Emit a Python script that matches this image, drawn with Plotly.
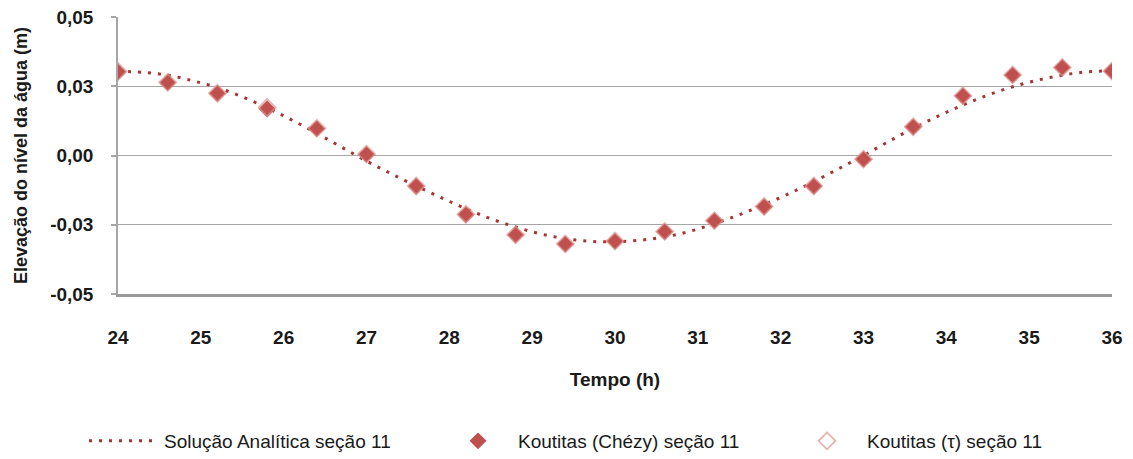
import plotly.graph_objects as go

# ---- data ----
t_analitica = [24.0, 24.3, 24.6, 24.9, 25.2, 25.5, 25.8, 26.1, 26.4, 26.7, 27.0,
               27.3, 27.6, 27.9, 28.2, 28.5, 28.8, 29.1, 29.4, 29.7, 30.0,
               30.3, 30.6, 30.9, 31.2, 31.5, 31.8, 32.1, 32.4, 32.7, 33.0,
               33.3, 33.6, 33.9, 34.2, 34.5, 34.8, 35.1, 35.4, 35.7, 36.0]
eta_analitica = [0.0304, 0.0300, 0.0290, 0.0270, 0.0245, 0.0212, 0.0172, 0.0128, 0.0080, 0.0030, -0.0020,
                 -0.0066, -0.0110, -0.0152, -0.0192, -0.0228, -0.0258, -0.0283, -0.0300, -0.0310, -0.0311,
                 -0.0306, -0.0294, -0.0274, -0.0246, -0.0214, -0.0177, -0.0138, -0.0094, -0.0048, 0.0000,
                 0.0050, 0.0098, 0.0142, 0.0182, 0.0218, 0.0248, 0.0272, 0.0290, 0.0302, 0.0306]

t_koutitas = [24.0, 24.6, 25.2, 25.8, 26.4, 27.0, 27.6, 28.2, 28.8, 29.4, 30.0,
              30.6, 31.2, 31.8, 32.4, 33.0, 33.6, 34.2, 34.8, 35.4, 36.0]
eta_chezy = [0.0302, 0.0263, 0.0224, 0.0168, 0.0097, 0.0004, -0.0111, -0.0214, -0.0287, -0.0320, -0.0310,
             -0.0275, -0.0236, -0.0185, -0.0111, -0.0014, 0.0103, 0.0215, 0.0290, 0.0318, 0.0304]
eta_tau = [0.0303, 0.0264, 0.0225, 0.0173, 0.0098, 0.0005, -0.0110, -0.0212, -0.0286, -0.0319, -0.0309,
           -0.0274, -0.0235, -0.0184, -0.0110, -0.0013, 0.0104, 0.0216, 0.0291, 0.0318, 0.0305]

x_ticks = [24, 25, 26, 27, 28, 29, 30, 31, 32, 33, 34, 35, 36]
y_tickvals = [-0.05, -0.025, 0.0, 0.025, 0.05]
y_ticktext = ["-0,05", "-0,03", "0,00", "0,03", "0,05"]

nome_analitica = "Solução Analítica seção 11"
nome_chezy = "Koutitas (Chézy) seção 11"
nome_tau = "Koutitas (τ) seção 11"
titulo_x = "Tempo (h)"
titulo_y = "Elevação do nível da água (m)"

FONT = "Liberation Sans, Arial, sans-serif"

fig = go.Figure()
fig.add_trace(go.Scatter(
    x=t_analitica, y=eta_analitica, mode="lines", name=nome_analitica,
    line=dict(color="#a53532", width=3, dash="3px,7px", shape="spline"),
    legend="legend"))
fig.add_trace(go.Scatter(
    x=t_koutitas, y=eta_chezy, mode="markers", name=nome_chezy,
    marker=dict(symbol="diamond", size=13, color="#c0504d", line=dict(width=0)),
    legend="legend2"))
fig.add_trace(go.Scatter(
    x=t_koutitas, y=eta_tau, mode="markers", name=nome_tau,
    marker=dict(symbol="diamond-open", size=13, color="rgba(220,145,143,0.7)",
                line=dict(width=1.8, color="rgba(220,145,143,0.7)")),
    legend="legend3"))

L, R, T, B = 118, 21, 17, 165
W, H = 1133, 459
pw = W - L - R
ph = H - T - B

def px2x(px):
    return (px - L) / pw

def py2y(py):
    return (H - B - py) / ph

leg_common = dict(orientation="h", yanchor="middle", xanchor="left",
                  font=dict(family=FONT, size=19, color="#1a1a1a"),
                  bgcolor="rgba(0,0,0,0)", itemwidth=70, y=py2y(441))

fig.update_layout(
    width=W, height=H,
    margin=dict(l=L, r=R, t=T, b=B, autoexpand=False),
    paper_bgcolor="white", plot_bgcolor="white",
    font=dict(family=FONT, color="#1a1a1a"),
    showlegend=True,
    legend=dict(leg_common, x=px2x(84)),
    legend2=dict(leg_common, x=px2x(438)),
    legend3=dict(leg_common, x=px2x(787)),
    xaxis=dict(
        range=[24, 36], tickvals=x_ticks, ticktext=[str(v) for v in x_ticks],
        showgrid=False, zeroline=False,
        showline=True, linecolor="#9a9a9a", linewidth=3,
        ticks="", ticklabelstandoff=24,
        tickfont=dict(family=FONT, size=19, color="#1a1a1a", weight="bold"),
        title=dict(text=titulo_x, standoff=26,
                   font=dict(family=FONT, size=19, color="#1a1a1a", weight="bold")),
    ),
    yaxis=dict(
        range=[-0.05, 0.05], tickvals=y_tickvals, ticktext=y_ticktext,
        showgrid=True, gridcolor="#a6a6a6", gridwidth=1.2, zeroline=False,
        showline=True, linecolor="#a6a6a6", linewidth=1.5,
        ticks="outside", ticklen=5, tickcolor="#a6a6a6", tickwidth=1.5,
        ticklabelstandoff=14,
        tickfont=dict(family=FONT, size=19, color="#1a1a1a", weight="bold"),
        title=dict(text=titulo_y, standoff=18,
                   font=dict(family=FONT, size=18, color="#1a1a1a", weight="bold")),
    ),
)

fig.write_html("out.html")
